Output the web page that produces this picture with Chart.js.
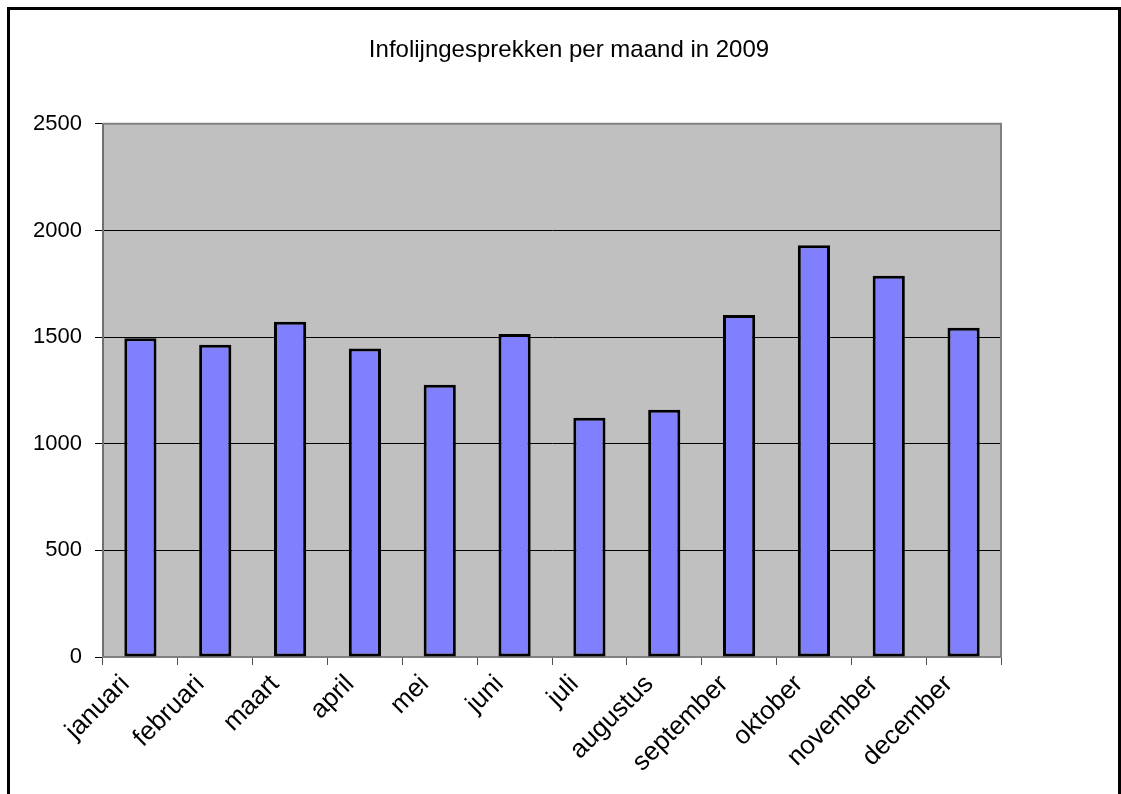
<!DOCTYPE html>
<html>
<head>
<meta charset="utf-8">
<script src="https://cdn.jsdelivr.net/npm/chart.js@4"></script>
<style>
  html, body { margin: 0; padding: 0; background: #fff; overflow: hidden; }
  #wrap { position: relative; width: 1121px; height: 794px; }
  #frame {
    position: absolute; left: 7px; top: 7px; width: 1108px; height: 1000px;
    border: 3px solid #000; pointer-events: none;
  }
</style>
</head>
<body>
<div id="wrap">
  <canvas id="chart"></canvas>
  <div id="frame"></div>
</div>
<script>
const months = ["januari", "februari", "maart", "april", "mei", "juni",
  "juli", "augustus", "september", "oktober", "november", "december"];
const calls = [1495, 1464, 1572, 1446, 1277, 1514, 1122, 1159, 1604, 1930, 1788, 1544];
const yTicks = [0, 500, 1000, 1500, 2000, 2500];

const FONT = "'Liberation Sans', Arial, sans-serif";

// grey plot area with a grey frame, like the Excel original
const plotArea = {
  id: "plotArea",
  beforeDraw(chart) {
    const { ctx, chartArea: a } = chart;
    ctx.save();
    ctx.fillStyle = "#C0C0C0";
    ctx.fillRect(a.left, a.top, a.right - a.left, a.bottom - a.top);
    ctx.restore();
  },
  afterDatasetsDraw(chart) {
    const { ctx, chartArea: a } = chart;
    ctx.save();
    ctx.strokeStyle = "#808080";
    ctx.lineWidth = 2;
    ctx.beginPath();
    ctx.moveTo(a.left, a.top);
    ctx.lineTo(a.right, a.top);
    ctx.lineTo(a.right, a.bottom);
    ctx.stroke();
    ctx.restore();
  }
};

new Chart(document.getElementById("chart"), {
  type: "bar",
  data: {
    labels: months,
    datasets: [{
      label: "Infolijngesprekken",
      data: calls,
      backgroundColor: "#8080FF",
      borderColor: "#000",
      borderWidth: 3,
      borderSkipped: false,
      categoryPercentage: 1,
      barPercentage: 0.43
    }]
  },
  options: {
    responsive: true,
    maintainAspectRatio: false,
    animation: false,
    layout: { padding: { left: 17, right: 0, top: 0, bottom: 0 } },
    plugins: {
      legend: { display: false },
      tooltip: { enabled: false },
      title: {
        display: true,
        text: "Infolijngesprekken per maand in 2009",
        color: "#000",
        font: { family: FONT, size: 24, weight: "normal" },
        padding: { top: 36, bottom: 59 }
      }
    },
    scales: {
      y: {
        min: 0,
        max: 2500,
        afterBuildTicks(scale) { scale.ticks = yTicks.map(v => ({ value: v })); },
        afterFit(scale) { scale.width = 86; },
        border: { color: "#707070", width: 2 },
        grid: {
          color: ctx => (ctx.tick && (ctx.tick.value === 0 || ctx.tick.value === 2500)) ? "rgba(0,0,0,0)" : "#000",
          lineWidth: 1,
          tickColor: "#000",
          tickLength: 8
        },
        ticks: {
          color: "#000",
          font: { family: FONT, size: 22 },
          padding: 13,
          callback: v => String(v)
        }
      },
      // empty right-hand axis, only keeps the white margin on the right
      spacer: {
        type: "linear",
        position: "right",
        afterFit(scale) { scale.width = 120; },
        grid: { display: false, drawTicks: false },
        border: { display: false },
        ticks: { display: false }
      },
      x: {
        afterFit(scale) { scale.height = 137; },
        border: { color: "#808080", width: 2 },
        grid: {
          offset: true,
          drawOnChartArea: false,
          tickColor: "#505050",
          tickLength: 8
        },
        ticks: {
          color: "#000",
          font: { family: FONT, size: 26 },
          autoSkip: false,
          maxRotation: 45,
          minRotation: 45,
          padding: 4,
          labelOffset: -15
        }
      }
    }
  },
  plugins: [plotArea]
});
</script>
</body>
</html>
